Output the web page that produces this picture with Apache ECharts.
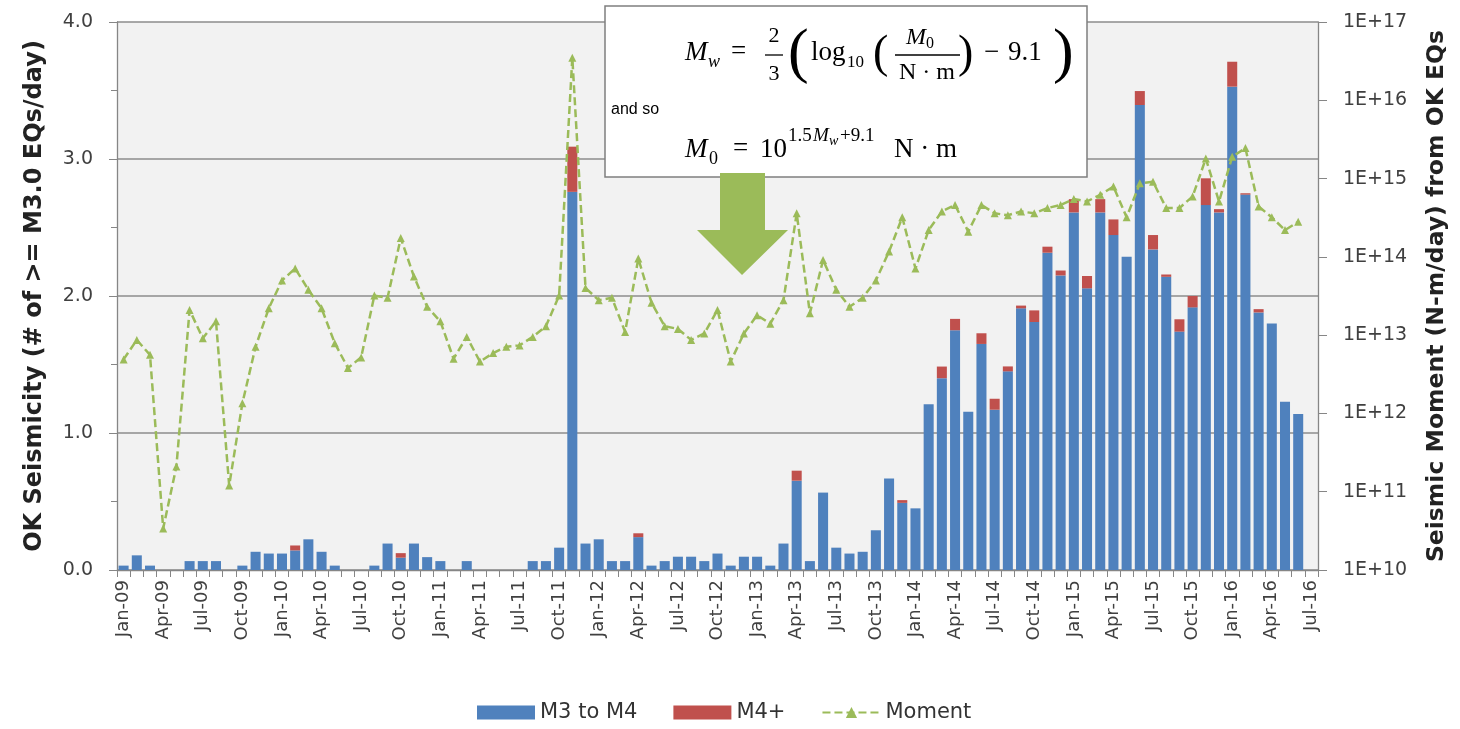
<!DOCTYPE html>
<html>
<head>
<meta charset="utf-8">
<script src="https://cdn.jsdelivr.net/npm/echarts@6/dist/echarts.min.js"></script>
<style>
html,body{margin:0;padding:0;background:#fff;}
#chart{width:1460px;height:729px;}
</style>
</head>
<body>
<div id="chart"></div>
<script>
// Month categories (Jul-16 is an empty slot at the end of the axis)
const months = [
 'Jan-09','Feb-09','Mar-09','Apr-09','May-09','Jun-09','Jul-09','Aug-09','Sep-09','Oct-09','Nov-09','Dec-09',
 'Jan-10','Feb-10','Mar-10','Apr-10','May-10','Jun-10','Jul-10','Aug-10','Sep-10','Oct-10','Nov-10','Dec-10',
 'Jan-11','Feb-11','Mar-11','Apr-11','May-11','Jun-11','Jul-11','Aug-11','Sep-11','Oct-11','Nov-11','Dec-11',
 'Jan-12','Feb-12','Mar-12','Apr-12','May-12','Jun-12','Jul-12','Aug-12','Sep-12','Oct-12','Nov-12','Dec-12',
 'Jan-13','Feb-13','Mar-13','Apr-13','May-13','Jun-13','Jul-13','Aug-13','Sep-13','Oct-13','Nov-13','Dec-13',
 'Jan-14','Feb-14','Mar-14','Apr-14','May-14','Jun-14','Jul-14','Aug-14','Sep-14','Oct-14','Nov-14','Dec-14',
 'Jan-15','Feb-15','Mar-15','Apr-15','May-15','Jun-15','Jul-15','Aug-15','Sep-15','Oct-15','Nov-15','Dec-15',
 'Jan-16','Feb-16','Mar-16','Apr-16','May-16','Jun-16','Jul-16'
];

// M3 to M4 (EQs/day)
const m3toM4 = [
 0.032,0.107,0.032,0,0,0.065,0.065,0.065,0,0.032,
 0.133,0.12,0.12,0.143,0.224,0.133,0.032,0,0,0.032,
 0.193,0.09,0.193,0.094,0.065,0,0.065,0,0,0,
 0,0.065,0.065,0.163,2.76,0.193,0.224,0.065,0.065,0.24,
 0.032,0.065,0.097,0.097,0.065,0.12,0.032,0.097,0.097,0.032,
 0.193,0.652,0.065,0.565,0.163,0.12,0.133,0.29,0.667,0.49,
 0.45,1.21,1.40,1.75,1.156,1.65,1.17,1.45,1.91,1.81,
 2.316,2.15,2.61,2.056,2.61,2.445,2.287,3.394,2.34,2.14,
 1.74,1.917,2.664,2.61,3.528,2.74,1.88,1.80,1.229,1.139,
 null
];

// M4+ (EQs/day)
const m4plus = [
 0,0,0,0,0,0,0,0,0,0,
 0,0,0,0.036,0,0,0,0,0,0,
 0,0.033,0,0,0,0,0,0,0,0,
 0,0,0,0,0.33,0,0,0,0,0.028,
 0,0,0,0,0,0,0,0,0,0,
 0,0.073,0,0,0,0,0,0,0,0.02,
 0,0,0.085,0.083,0,0.078,0.08,0.036,0.02,0.085,
 0.044,0.036,0.097,0.09,0.097,0.114,0,0.102,0.105,0.017,
 0.09,0.083,0.195,0.024,0.182,0.01,0.024,0,0,0,
 null
];

// Seismic moment (N-m/day)
const moment = [
 4.9e12,8.7e12,5.6e12,3.4e10,2.1e11,2.1e13,9.1e12,1.5e13,1.2e11,1.35e12,
 7.1e12,2.2e13,5.0e13,7.1e13,3.8e13,2.2e13,7.9e12,3.8e12,5.2e12,3.2e13,
 3.0e13,1.74e14,5.6e13,2.3e13,1.5e13,5.0e12,9.5e12,4.6e12,5.9e12,7.1e12,
 7.4e12,9.5e12,1.3e13,3.2e13,3.5e16,4.0e13,2.8e13,3.0e13,1.1e13,9.5e13,
 2.6e13,1.3e13,1.2e13,8.7e12,1.05e13,2.1e13,4.6e12,1.05e13,1.8e13,1.4e13,
 2.8e13,3.6e14,1.9e13,9.1e13,3.8e13,2.3e13,3.0e13,5.0e13,1.17e14,3.2e14,
 7.1e13,2.2e14,3.8e14,4.6e14,2.1e14,4.6e14,3.6e14,3.4e14,3.8e14,3.6e14,
 4.2e14,4.6e14,5.5e14,5.1e14,6.2e14,7.9e14,3.2e14,8.7e14,9.1e14,4.2e14,
 4.2e14,5.9e14,1.8e15,5.1e14,1.9e15,2.45e15,4.4e14,3.2e14,2.2e14,2.8e14,
 null
];

const leftTicks = [0, 1, 2, 3, 4];

const chart = echarts.init(document.getElementById('chart'), null, {renderer: 'canvas'});

const serif = '"Liberation Serif", "DejaVu Serif", serif';
function tx(text, x, y, size, opts) {
  opts = opts || {};
  return {
    type: 'text', x: x, y: y, z: 110,
    style: {
      text: text,
      font: (opts.italic ? 'italic ' : '') + size + 'px ' + (opts.family || serif),
      fill: '#000',
      textAlign: opts.align || 'left',
      textVerticalAlign: 'middle'
    }
  };
}
function ln(x1, y, x2) {
  return {type: 'line', z: 110, shape: {x1: x1, y1: y, x2: x2, y2: y}, style: {stroke: '#000', lineWidth: 1.3}};
}

const graphics = [
  {type: 'rect', z: 100, shape: {x: 605, y: 6, width: 482, height: 171},
   style: {fill: '#fff', stroke: '#7f7f7f', lineWidth: 1.5}},
  // formula 1
  tx('M', 685, 53, 27, {italic: true}),
  tx('w', 708, 62, 18, {italic: true}),
  tx('=', 731, 52, 27),
  tx('2', 774, 36, 22, {align: 'center'}),
  ln(765, 55, 783),
  tx('3', 774, 74, 22, {align: 'center'}),
  tx('(', 788, 55, 62),
  tx('log', 811, 53, 27),
  tx('10', 847, 63, 17),
  tx('(', 873, 55, 46),
  tx('M', 906, 38, 24, {italic: true}),
  tx('0', 926, 44, 16),
  ln(895, 55, 960),
  tx('N · m', 927, 73, 24, {align: 'center'}),
  tx(')', 958, 55, 46),
  tx('\u2212', 984, 53, 27),
  tx('9.1', 1008, 53, 27),
  tx(')', 1053, 55, 62),
  // and so
  tx('and so', 611, 110, 16, {family: '"Liberation Sans", Arial, sans-serif'}),
  // formula 2
  tx('M', 685, 150, 27, {italic: true}),
  tx('0', 709, 159, 18),
  tx('=', 733, 149, 27),
  tx('10', 760, 150, 27),
  tx('1.5', 788, 136, 19),
  tx('M', 813, 136, 19, {italic: true}),
  tx('w', 829, 141, 14, {italic: true}),
  tx('+9.1', 840, 136, 19),
  tx('N · m', 894, 150, 27),
  // arrow
  {type: 'polygon', z: 105,
   shape: {points: [[720,173],[765,173],[765,230],[788,230],[742,275],[697,230],[720,230]]},
   style: {fill: '#9bbb59'}}
];

const option = {
  backgroundColor: '#ffffff',
  animation: false,
  textStyle: {fontFamily: 'DejaVu Sans'},
  grid: {left: 117, right: 142, top: 22, bottom: 159, show: true,
         backgroundColor: '#f2f2f2', borderWidth: 0},
  legend: {
    data: [{name: 'M3 to M4', icon: 'rect'}, {name: 'M4+', icon: 'rect'}, {name: 'Moment'}],
    left: 472, top: 697, itemWidth: 58, itemHeight: 14, itemGap: 36,
    textStyle: {fontFamily: 'DejaVu Sans', fontSize: 21, color: '#333'}
  },
  xAxis: {
    type: 'category', data: months, boundaryGap: true,
    axisLine: {lineStyle: {color: '#868686', width: 1.3}},
    axisTick: {show: true, interval: 0, length: 7, alignWithLabel: false, lineStyle: {color: '#868686'}},
    axisLabel: {interval: 2, rotate: 90, fontSize: 18, fontFamily: 'DejaVu Sans', color: '#404040', margin: 10},
    splitLine: {show: false}
  },
  yAxis: [
    {
      type: 'value', min: leftTicks[0], max: leftTicks[leftTicks.length - 1], interval: 1, position: 'left',
      name: 'OK Seismicity (# of >= M3.0 EQs/day)', nameLocation: 'middle', nameGap: 70,
      nameTextStyle: {fontFamily: 'DejaVu Sans', fontWeight: 'bold', fontSize: 24, color: '#222'},
      axisLine: {show: true, lineStyle: {color: '#868686', width: 1.3}},
      axisTick: {show: true, length: 8, lineStyle: {color: '#868686'}},
      minorTick: {show: true, splitNumber: 2, length: 6, lineStyle: {color: '#868686'}},
      axisLabel: {formatter: v => v.toFixed(1), fontSize: 19, fontFamily: 'DejaVu Sans', color: '#404040', margin: 24},
      splitLine: {show: true, lineStyle: {color: '#8c8c8c', width: 1.5}}
    },
    {
      type: 'log', logBase: 10, min: 1e10, max: 1e17, interval: 1, position: 'right',
      name: 'Seismic Moment (N-m/day) from OK EQs', nameLocation: 'middle', nameGap: 107,
      nameRotate: 90,
      nameTextStyle: {fontFamily: 'DejaVu Sans', fontWeight: 'bold', fontSize: 23.5, color: '#222'},
      axisLine: {show: true, lineStyle: {color: '#868686', width: 1.3}},
      axisTick: {show: true, length: 9, lineStyle: {color: '#868686'}},
      axisLabel: {formatter: v => '1E+' + Math.round(Math.log10(v)), fontSize: 19, fontFamily: 'DejaVu Sans', color: '#404040', margin: 25},
      splitLine: {show: false}
    }
  ],
  series: [
    {name: 'M3 to M4', type: 'bar', stack: 'eq', data: m3toM4, barCategoryGap: '24%',
     itemStyle: {color: '#4f81bd'}},
    {name: 'M4+', type: 'bar', stack: 'eq', data: m4plus,
     itemStyle: {color: '#c0504d'}},
    {name: 'Moment', type: 'line', yAxisIndex: 1, data: moment, z: 5,
     symbol: 'triangle', symbolSize: 8, connectNulls: false,
     itemStyle: {color: '#9bbb59'},
     lineStyle: {color: '#9bbb59', width: 2.5, type: [8, 4]}}
  ],
  graphic: graphics
};
chart.setOption(option);
</script>
</body>
</html>
